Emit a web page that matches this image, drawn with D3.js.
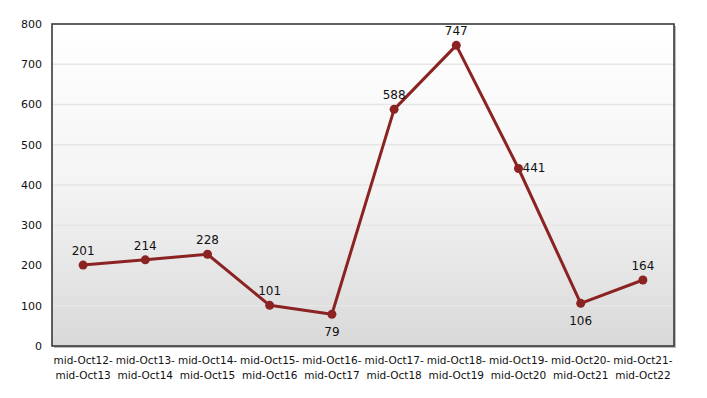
<!DOCTYPE html>
<html>
<head>
<meta charset="utf-8">
<script src="https://cdn.jsdelivr.net/npm/d3@7"></script>
<style>
  body { margin: 0; background: #fff; }
  svg { display: block; font-family: "DejaVu Sans", Verdana, sans-serif; }
</style>
</head>
<body>
<svg id="chart"></svg>
<script>
const categories = [
  ["mid-Oct12-", "mid-Oct13"], ["mid-Oct13-", "mid-Oct14"], ["mid-Oct14-", "mid-Oct15"],
  ["mid-Oct15-", "mid-Oct16"], ["mid-Oct16-", "mid-Oct17"], ["mid-Oct17-", "mid-Oct18"],
  ["mid-Oct18-", "mid-Oct19"], ["mid-Oct19-", "mid-Oct20"], ["mid-Oct20-", "mid-Oct21"],
  ["mid-Oct21-", "mid-Oct22"]
];
const values = [201, 214, 228, 101, 79, 588, 747, 441, 106, 164];
const labelPlacement = ["above", "above", "above", "above", "below", "above", "above", "right", "below", "above"];
const yTicks = [0, 100, 200, 300, 400, 500, 600, 700, 800];

const width = 707, height = 398;
const margin = { top: 24, right: 33, bottom: 52, left: 52 };
const iw = width - margin.left - margin.right;
const ih = height - margin.top - margin.bottom;

const svg = d3.select('#chart').attr('width', width).attr('height', height);

const defs = svg.append('defs');
const grad = defs.append('linearGradient').attr('id', 'bg')
  .attr('x1', 0).attr('y1', 0).attr('x2', 0).attr('y2', 1);
grad.append('stop').attr('offset', '0%').attr('stop-color', '#ffffff');
grad.append('stop').attr('offset', '50%').attr('stop-color', '#f4f4f4');
grad.append('stop').attr('offset', '100%').attr('stop-color', '#d9d9d9');

const x = d3.scalePoint().domain(d3.range(values.length)).range([0, iw]).padding(0.5);
const y = d3.scaleLinear().domain([0, 800]).range([ih, 0]);

const g = svg.append('g').attr('transform', `translate(${margin.left},${margin.top})`);

// shadow on right/bottom
g.append('rect').attr('x', 2).attr('y', 2).attr('width', iw).attr('height', ih)
  .attr('fill', '#bbb');
g.append('rect').attr('width', iw).attr('height', ih).attr('fill', 'url(#bg)');

g.selectAll('.grid').data(yTicks.slice(1, -1)).enter().append('line')
  .attr('x1', 0).attr('x2', iw)
  .attr('y1', d => y(d)).attr('y2', d => y(d))
  .attr('stroke', '#e6e6e6').attr('stroke-width', 1.5);

g.append('rect').attr('width', iw).attr('height', ih)
  .attr('fill', 'none').attr('stroke', '#3a3a3a').attr('stroke-width', 1.6);

// y axis labels
g.selectAll('.ytick').data(yTicks).enter().append('text')
  .attr('x', -10).attr('y', d => y(d)).attr('dy', '0.35em')
  .attr('text-anchor', 'end').attr('font-size', 11).attr('fill', '#111')
  .text(d => d);

// x axis labels
const xl = g.selectAll('.xtick').data(categories).enter().append('text')
  .attr('text-anchor', 'middle').attr('font-size', 10.5).attr('fill', '#111')
  .attr('transform', (d, i) => `translate(${x(i)},${ih + 18})`);
xl.append('tspan').attr('x', 0).attr('y', 0).text(d => d[0]);
xl.append('tspan').attr('x', 0).attr('y', 15).text(d => d[1]);

const line = d3.line().x((d, i) => x(i)).y(d => y(d));
g.append('path').datum(values).attr('d', line)
  .attr('fill', 'none').attr('stroke', '#8b2323').attr('stroke-width', 3)
  .attr('stroke-linejoin', 'round');

g.selectAll('.dot').data(values).enter().append('circle')
  .attr('cx', (d, i) => x(i)).attr('cy', d => y(d)).attr('r', 4.5)
  .attr('fill', '#8b2323');

g.selectAll('.lbl').data(values).enter().append('text')
  .attr('font-size', 12).attr('fill', '#111')
  .attr('text-anchor', (d, i) => labelPlacement[i] === 'right' ? 'start' : 'middle')
  .attr('x', (d, i) => labelPlacement[i] === 'right' ? x(i) + 4 : x(i))
  .attr('y', (d, i) => {
    const p = labelPlacement[i];
    if (p === 'below') return y(d) + 22;
    if (p === 'right') return y(d) + 4;
    return y(d) - 10;
  })
  .text(d => d);
</script>
</body>
</html>
